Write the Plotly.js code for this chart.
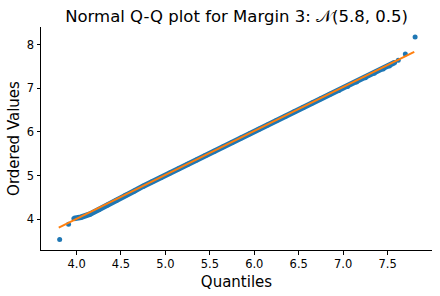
<!DOCTYPE html>
<html>
<head>
<meta charset="utf-8">
<script src="https://cdn.plot.ly/plotly-3.0.1.min.js"></script>
<style>html,body{margin:0;padding:0;background:#fff;}#chart{width:440px;height:296px;}</style>
</head>
<body>
<div id="chart"></div>
<script>
// Theoretical quantiles and ordered sample values
const quantiles = [3.81, 3.91, 3.97, 4.05, 4.15, 4.25, 4.35, 4.45, 4.55, 4.65, 4.75, 4.85, 4.95,
  5.05, 5.15, 5.25, 5.35, 5.45, 5.55, 5.65, 5.75, 5.85, 5.95, 6.05, 6.15, 6.25, 6.35, 6.45, 6.55,
  6.65, 6.75, 6.85, 6.95, 7.05, 7.15, 7.25, 7.35, 7.45, 7.52, 7.58, 7.62, 7.70, 7.81];
const orderedValues = [3.54, 3.89, 4.02, 4.05, 4.12, 4.22, 4.33, 4.44, 4.55, 4.65, 4.76, 4.86, 4.96,
  5.06, 5.16, 5.26, 5.36, 5.46, 5.56, 5.66, 5.76, 5.86, 5.96, 6.06, 6.16, 6.26, 6.36, 6.46, 6.56,
  6.66, 6.76, 6.86, 6.95, 7.04, 7.14, 7.24, 7.34, 7.44, 7.51, 7.59, 7.64, 7.78, 8.17];
const fitX = [3.80, 7.80];
const fitY = [3.81, 7.83];
const xTicks = [4.0, 4.5, 5.0, 5.5, 6.0, 6.5, 7.0, 7.5];
const yTicks = [4, 5, 6, 7, 8];

const blue = '#1f77b4', orange = '#ff7f0e';
const bodyStart = 2, bodyEnd = quantiles.length - 3;

const traces = [
  {x: quantiles.slice(bodyStart, bodyEnd), y: orderedValues.slice(bodyStart, bodyEnd),
   mode: 'lines', line: {color: blue, width: 5.5}, hoverinfo: 'skip', showlegend: false},
  {x: quantiles, y: orderedValues, mode: 'markers',
   marker: {color: blue, size: 5}, showlegend: false},
  {x: fitX, y: fitY, mode: 'lines', line: {color: orange, width: 2}, showlegend: false}
];

const font = {family: 'DejaVu Sans, sans-serif', color: '#000'};
const layout = {
  width: 440, height: 296,
  margin: {l: 41, r: 8, t: 27, b: 46},
  paper_bgcolor: '#fff', plot_bgcolor: '#fff',
  font: font,
  showlegend: false,
  title: {text: 'Normal Q-Q plot for Margin 3: 𝒩(5.8, 0.5)', font: {family: 'DejaVu Sans, sans-serif', size: 16.5, color: '#000'},
          x: 0.5375, xanchor: 'center', y: 0.945, yanchor: 'middle', xref: 'container', yref: 'container'},
  xaxis: {range: [3.6, 8.0], tickvals: xTicks, ticktext: xTicks.map(v => v.toFixed(1)),
          showgrid: false, zeroline: false, showline: true, linecolor: '#000', linewidth: 1,
          ticks: 'outside', ticklen: 3.5, tickcolor: '#000', tickfont: {size: 11.5},
          title: {text: 'Quantiles', font: {size: 15}, standoff: 6}},
  yaxis: {range: [3.3, 8.4], tickvals: yTicks, ticktext: yTicks.map(String),
          showgrid: false, zeroline: false, showline: true, linecolor: '#000', linewidth: 1,
          ticks: 'outside', ticklen: 3.5, tickcolor: '#000', tickfont: {size: 11.5},
          automargin: true,
          title: {text: 'Ordered Values', font: {size: 15}, standoff: 3}}
};
Plotly.newPlot('chart', traces, layout, {displayModeBar: false, staticPlot: true});
</script>
</body>
</html>
